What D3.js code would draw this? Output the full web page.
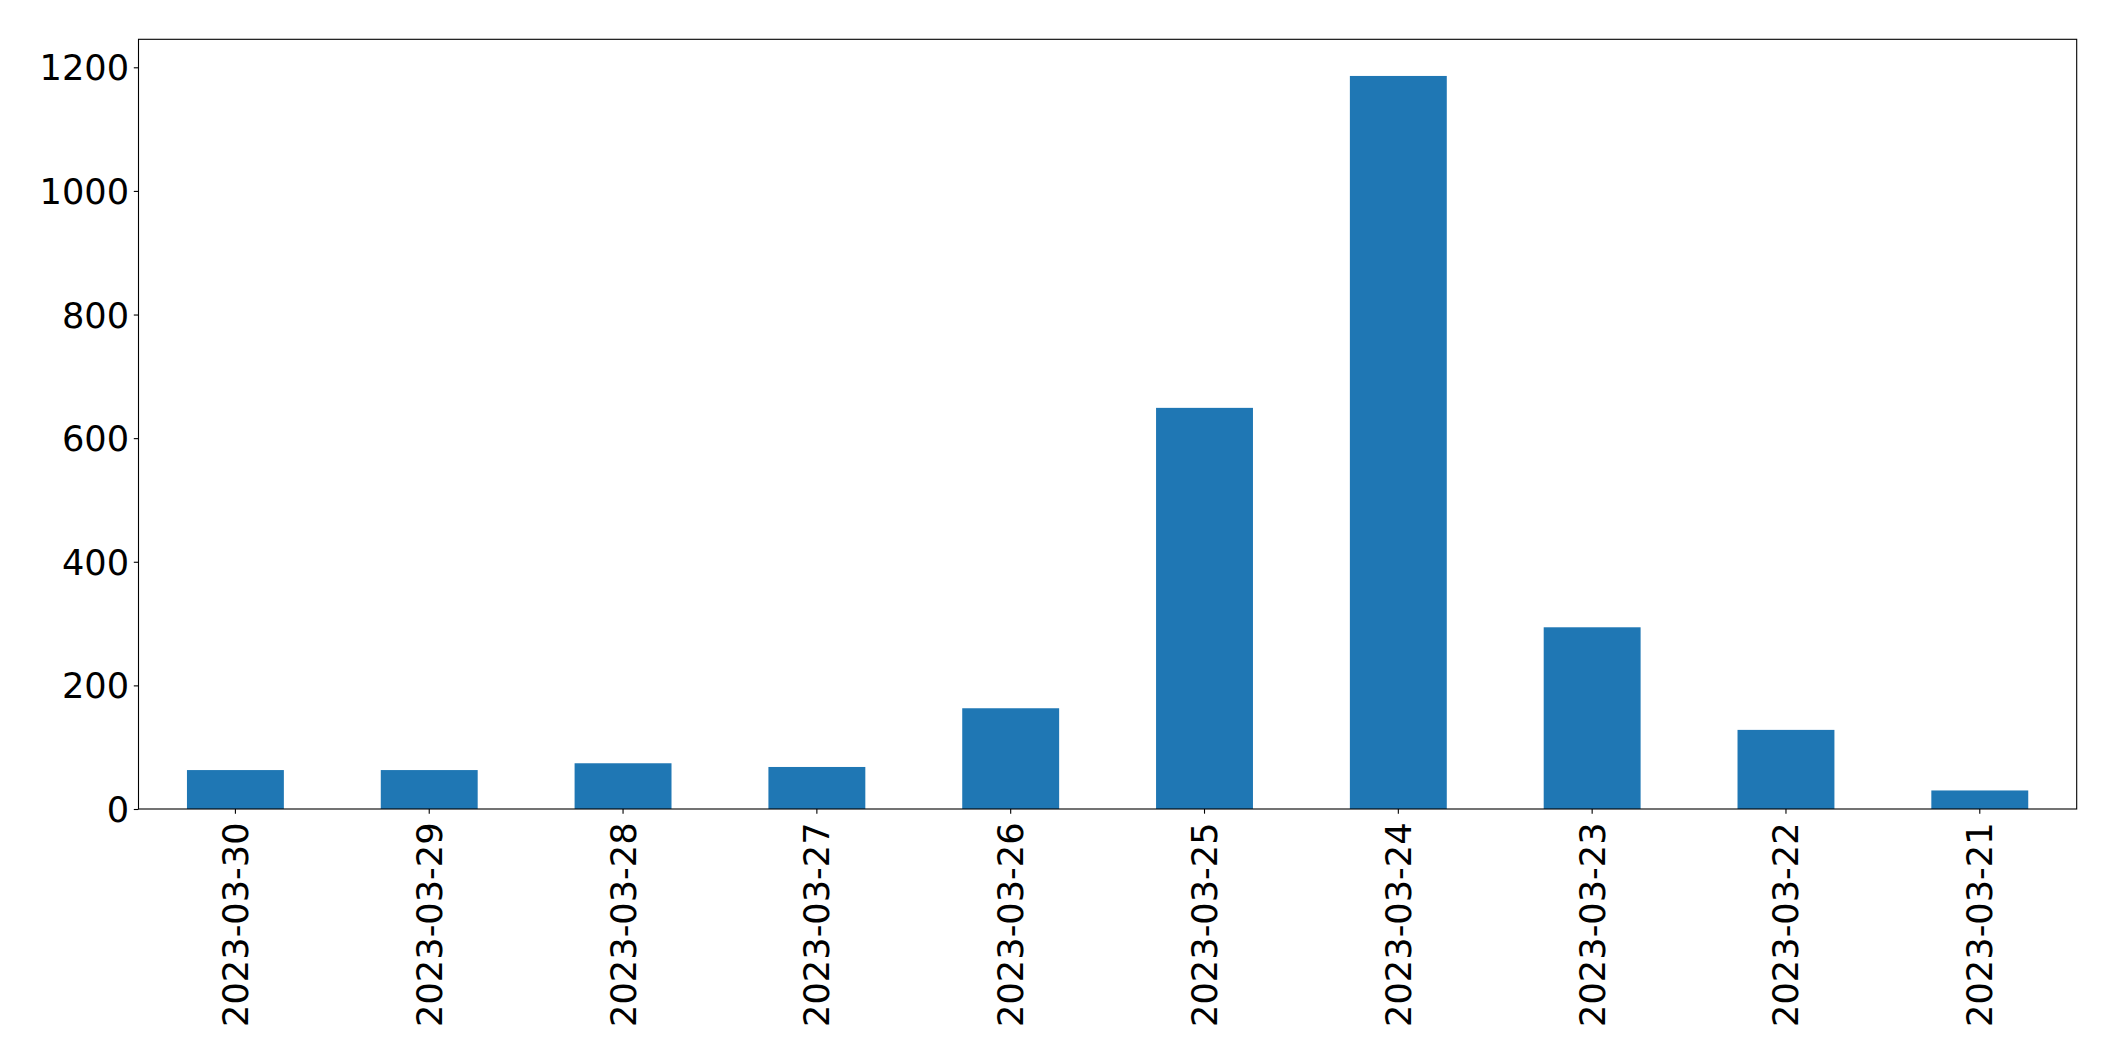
<!DOCTYPE html>
<html>
<head>
<meta charset="utf-8">
<script src="https://cdn.jsdelivr.net/npm/d3@7"></script>
<style>
  html, body { margin: 0; padding: 0; background: #fff; }
  svg { display: block; }
</style>
</head>
<body>
<svg id="chart" width="2115" height="1061"></svg>
<script>
const categories = ["2023-03-30","2023-03-29","2023-03-28","2023-03-27","2023-03-26","2023-03-25","2023-03-24","2023-03-23","2023-03-22","2023-03-21"];
const values = [63, 63, 74, 68, 163, 649, 1186, 294, 128, 30];
const yTicks = [0, 200, 400, 600, 800, 1000, 1200];

(function () {
  const plotLeft = 138.5, plotRight = 2076.7, plotTop = 39.3, plotBottom = 809;
  const fontSize = 35.2;
  const svg = d3.select("#chart");

  const x = d3.scaleBand().domain(categories).range([plotLeft, plotRight]).paddingInner(0.5).paddingOuter(0.25);
  const y = d3.scaleLinear().domain([0, d3.max(values) * 1.05]).range([plotBottom, plotTop]);

  svg.append("g").selectAll("rect").data(categories).join("rect")
    .attr("x", d => x(d))
    .attr("width", x.bandwidth())
    .attr("y", (d, i) => y(values[i]))
    .attr("height", (d, i) => y(0) - y(values[i]))
    .attr("fill", "#1f77b4");

  const tickLen = 4.7, pad = 4.7;

  // y axis
  const yAxis = d3.axisLeft(y).tickValues(yTicks).tickSize(tickLen).tickPadding(pad).tickFormat(d3.format("d"));
  const gy = svg.append("g").attr("transform", `translate(${plotLeft},0)`).call(yAxis);
  gy.select(".domain").remove();
  gy.selectAll(".tick line").attr("stroke", "#000").attr("stroke-width", 1.1);
  gy.selectAll(".tick text")
    .attr("font-family", "DejaVu Sans")
    .attr("font-size", fontSize)
    .attr("fill", "#000")
    .attr("dy", null)
    .attr("dominant-baseline", "central");

  // x axis
  const xAxis = d3.axisBottom(x).tickSize(tickLen).tickPadding(pad);
  const gx = svg.append("g").attr("transform", `translate(0,${plotBottom})`).call(xAxis);
  gx.select(".domain").remove();
  gx.selectAll(".tick line").attr("stroke", "#000").attr("stroke-width", 1.1);
  gx.selectAll(".tick text")
    .attr("font-family", "DejaVu Sans")
    .attr("font-size", fontSize)
    .attr("fill", "#000")
    .attr("y", null)
    .attr("dy", null)
    .attr("text-anchor", "end")
    .attr("dominant-baseline", "central")
    .attr("transform", `translate(0,${tickLen + pad + 4}) rotate(-90)`);

  // frame
  svg.append("rect")
    .attr("x", plotLeft).attr("y", plotTop)
    .attr("width", plotRight - plotLeft).attr("height", plotBottom - plotTop)
    .attr("fill", "none").attr("stroke", "#000").attr("stroke-width", 1.1);
})();
</script>
</body>
</html>
